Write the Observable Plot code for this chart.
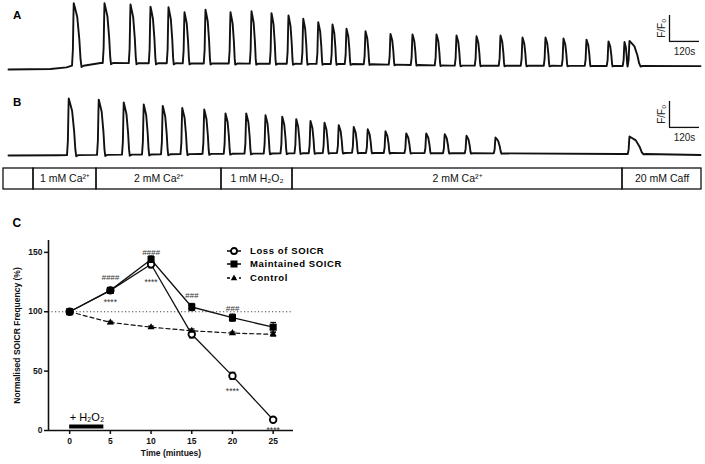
<!DOCTYPE html>
<html><head><meta charset="utf-8">
<script src="https://cdn.jsdelivr.net/npm/d3@7"></script>
<script src="https://cdn.jsdelivr.net/npm/@observablehq/plot@0.6"></script>
<style>
body{margin:0;background:#fff;}
#fig{position:relative;width:705px;height:464px;overflow:hidden;font-family:"Liberation Sans",Arial,sans-serif;}
.panel{position:absolute;left:0;}
.lab{position:absolute;font-weight:bold;line-height:1;color:#000;}
.leg{position:absolute;left:226px;height:10px;font-size:9.5px;font-weight:bold;letter-spacing:0.6px;line-height:10px;white-space:nowrap;}
.leg svg{position:absolute;left:0;top:0;}
.leg span{position:absolute;left:24px;top:0;}
</style></head><body><div id="fig"></div>
<script>
// ---------- Panel A: Ca2+ trace (time in s, F/F0) ----------
const peakTimesA = [261,384,488,568,640,704,788,888,972,1052,1120,1179,1239,1296,1352,1428,1528,1616,1712,1792,1872,1968,2056,2148,2220,2312,2400,2464,2484];
const peakValuesA = [3.55,3.55,3.50,3.42,3.40,3.20,3.30,3.20,3.24,3.17,3.08,2.95,2.82,2.73,2.57,2.47,2.37,2.35,2.35,2.31,2.28,2.31,2.23,2.23,2.19,2.15,2.08,2.06,2.10];
const spikeDurA = [31,26,24,22,21,20,20,19,19,18,18,17,17,16,16,16,16,16,16,16,16,16,16,16,16,16,16,12,44];
const baseTimesA = [0,168,232,280,368,1368,1768,2768];
const baseValuesA = [1.0,1.02,1.08,1.19,1.25,1.21,1.15,1.13];

// ---------- Panel B ----------
const peakTimesB = [241,361,461,541,617,695,783,868,951,1028,1095,1151,1208,1264,1321,1381,1437,1508,1591,1671,1745,1832,1948,2484];
const peakValuesB = [3.19,3.15,3.04,2.96,2.91,2.83,2.77,2.62,2.62,2.55,2.49,2.40,2.33,2.26,2.17,2.10,2.01,1.93,1.85,1.85,1.82,1.76,1.69,1.73];
const spikeDurB = [30,26,24,22,22,21,20,19,19,18,18,17,17,17,17,17,17,17,18,18,18,18,24,56];
const baseTimesB = [0,200,768,1368,1968,2448,2768];
const baseValuesB = [1.0,1.01,1.06,1.10,1.08,1.06,1.02];

// scale bar: 120 s by 1 F/F0
const scaleBarSeconds = 120;
const scaleBarFF0 = 1;

// ---------- Condition bar ----------
const condStart = [-20,100,352,852,1136,2456];
const condEnd = [100,352,852,1136,2456,2772];
const condLabel = ["","1 mM Ca²⁺","2 mM Ca²⁺","1 mM H₂O₂","2 mM Ca²⁺","20 mM Caff"];

// ---------- Panel C ----------
const timeMin = [0,5,10,15,20,25];
const lossSOICR = [100,118,140,81,46,9];
const lossSEM = [0,2,3,3,3,1.5];
const maintainedSOICR = [100,118,144,104,95,87];
const maintainedSEM = [0,2,3,3,3,4];
const controlSOICR = [100,91,87,84,82,81];
const controlSEM = [0,1,1,1.5,1,1.5];
const seriesNames = ["Loss of SOICR","Maintained SOICR","Control"];
const statTime = [5,5,10,10,15,20,20,25];
const statValue = [129,110,150,127,114,103,35,2.5];
const statLabel = ["####","****","####","****","###","###","****","****"];
const h2o2Period = {start:0, end:4.2, label:"+ H₂O₂"};
const yTicksC = [0,50,100,150];
const xTicksC = [0,5,10,15,20,25];

// ---------- helpers ----------
const FONT = '"Liberation Sans", Arial, sans-serif';
const fig = document.getElementById("fig");
function place(el, top, left=0){ const d=document.createElement("div"); d.className="panel"; d.style.top=top+"px"; d.style.left=left+"px"; d.appendChild(el); fig.appendChild(d); }

function buildTrace(times, peaks, durs, kT, kV){
  const base = d3.scaleLinear().domain(kT).range(kV).clamp(true);
  const pts = [];
  const inSpike = t => times.some((tp,i)=> t > tp-8 && t < tp+durs[i]+9);
  kT.forEach((t,k)=>{ if(!inSpike(t)) pts.push({t, v:kV[k]}); });
  times.forEach((tp,i)=>{
    const w = durs[i], b = base(tp), a = peaks[i]-b;
    const next = times[i+1];
    const prof = [[-7,0],[-3.5,0.25],[-1.2,0.8],[0,1],[0.15*w,0.93],[0.45*w,0.78],[0.72*w,0.42],[0.88*w,0.1],[w,-0.02]];
    if (next === undefined || next - 7 > tp + w + 8) prof.push([w+8,0]);
    prof.forEach(([dt,f])=>pts.push({t:tp+dt, v:b+f*a}));
  });
  pts.sort((p,q)=>p.t-q.t);
  return pts;
}

const xTrace = {domain:[0,2780], axis:null};
function tracePlot(pts){
  const sb = [{t0:2644, f0:2.08}];
  return Plot.plot({
    width:705, height:80, marginLeft:8, marginRight:2, marginTop:0, marginBottom:11,
    x:xTrace, y:{domain:[1,1+69/26], axis:null},
    style:{background:"transparent", overflow:"visible", fontFamily:FONT},
    marks:[
      Plot.line(pts,{x:"t", y:"v", stroke:"#111", strokeWidth:1.9, strokeLinejoin:"round"}),
      Plot.ruleX(sb,{x:"t0", y1:"f0", y2:d=>d.f0+scaleBarFF0, stroke:"#111", strokeWidth:1.3}),
      Plot.ruleY(sb,{y:"f0", x1:"t0", x2:d=>d.t0+scaleBarSeconds, stroke:"#111", strokeWidth:1.3}),
      Plot.text(sb,{x:d=>d.t0+scaleBarSeconds/2, y:"f0", dy:10, text:()=>scaleBarSeconds+"s", fontSize:10, fill:"#222"}),
      Plot.text(sb,{x:"t0", y:d=>d.f0+scaleBarFF0/2, dx:-8, rotate:-90, text:()=>"F/Fₒ", fontSize:10, fill:"#222"})
    ]
  });
}

place(tracePlot(buildTrace(peakTimesA, peakValuesA, spikeDurA, baseTimesA, baseValuesA)), 0);
place(tracePlot(buildTrace(peakTimesB, peakValuesB, spikeDurB, baseTimesB, baseValuesB)), 86);

// condition bar
const cells = condStart.map((s,i)=>({s, e:condEnd[i], label:condLabel[i]}));
place(Plot.plot({
  width:705, height:26, marginLeft:8, marginRight:2, marginTop:2, marginBottom:3,
  x:xTrace, y:{domain:[0,1], axis:null},
  style:{background:"transparent", overflow:"visible", fontFamily:FONT},
  marks:[
    Plot.rect(cells,{x1:"s", x2:"e", y1:()=>0, y2:()=>1, fill:"none", stroke:"#111", strokeWidth:1.3}),
    Plot.text(cells,{x:d=>(d.s+d.e)/2, y:()=>0.5, text:"label", fontSize:10.5, fill:"#111"})
  ]
}), 166);

// panel C
const rows = (vals, sem, name) => timeMin.map((t,i)=>({t, v:vals[i], e:sem[i], name}));
const loss = rows(lossSOICR, lossSEM, seriesNames[0]);
const maint = rows(maintainedSOICR, maintainedSEM, seriesNames[1]);
const ctrl = rows(controlSOICR, controlSEM, seriesNames[2]);
const allPts = [...loss, ...maint, ...ctrl];
const stats = statTime.map((t,i)=>({t, v:statValue[i], label:statLabel[i]}));
const xDomC = [-2.6, 27.5];
const capHalf = 0.35;

place(Plot.plot({
  width:300, height:240, marginLeft:48, marginRight:7, marginTop:16, marginBottom:34,
  x:{domain:xDomC, label:null},
  y:{domain:[0,160], label:null},
  style:{background:"transparent", overflow:"visible", fontFamily:FONT, color:"#111"},
  marks:[
    Plot.ruleY([100],{stroke:"#444", strokeWidth:1, strokeDasharray:"1.2,2.3"}),
    Plot.axisY({ticks:yTicksC, tickSize:4, tickPadding:2, fontSize:8.5, fontWeight:"bold", strokeWidth:1.5, label:null}),
    Plot.axisX({ticks:xTicksC, tickSize:4, tickPadding:3, fontSize:8.5, fontWeight:"bold", strokeWidth:1.5, label:null}),
    Plot.ruleX([xDomC[0]],{strokeWidth:1.6}),
    Plot.ruleY([0],{strokeWidth:1.6}),
    Plot.text(["Time (mintues)"],{frameAnchor:"bottom", dy:25, text:d=>d, fontSize:8.5, fontWeight:"bold", letterSpacing:0.5}),
    Plot.text(["Normalised SOICR Frequency (%)"],{frameAnchor:"left", textAnchor:"middle", dx:-31, rotate:-90, text:d=>d, fontSize:8.5, fontWeight:"bold"}),
    Plot.ruleY([h2o2Period],{x1:"start", x2:"end", y:()=>0, dy:-4, strokeWidth:4, stroke:"#000"}),
    Plot.text([h2o2Period],{x:"start", y:()=>0, dy:-13, text:"label", textAnchor:"start", fontSize:11, fill:"#000"}),
    Plot.lineY(ctrl,{x:"t", y:"v", strokeWidth:1.2, strokeDasharray:"4,3"}),
    Plot.lineY(loss,{x:"t", y:"v", strokeWidth:1.3}),
    Plot.lineY(maint,{x:"t", y:"v", strokeWidth:1.3}),
    Plot.ruleX(allPts.filter(d=>d.e>0),{x:"t", y1:d=>d.v-d.e, y2:d=>d.v+d.e, strokeWidth:1.2}),
    Plot.link(allPts.filter(d=>d.e>0),{x1:d=>d.t-capHalf, x2:d=>d.t+capHalf, y1:d=>d.v+d.e, y2:d=>d.v+d.e, strokeWidth:1.2}),
    Plot.link(allPts.filter(d=>d.e>0),{x1:d=>d.t-capHalf, x2:d=>d.t+capHalf, y1:d=>d.v-d.e, y2:d=>d.v-d.e, strokeWidth:1.2}),
    Plot.dot(loss,{x:"t", y:"v", r:3.3, symbol:"circle", fill:"white", stroke:"#000", strokeWidth:1.8}),
    Plot.dot(maint,{x:"t", y:"v", r:4, symbol:"square", fill:"#000"}),
    Plot.dot(ctrl,{x:"t", y:"v", r:2.6, symbol:"triangle", fill:"#000"}),
    Plot.text(stats.filter(d=>d.label[0]==="#"),{x:"t", y:"v", text:"label", fontSize:8, fontStyle:"italic", fill:"#333"}),
    Plot.text(stats.filter(d=>d.label[0]==="*"),{x:"t", y:"v", dy:2.5, text:"label", fontSize:8.5, fill:"#333"})
  ]
}), 224);

// panel letters
[["A",11.5,10.2,13],["B",11.5,96.5,13],["C",12,217.4,12.5]].forEach(([t,fs,top,left])=>{
  const d=document.createElement("div"); d.className="lab"; d.textContent=t;
  d.style.fontSize=fs+"px"; d.style.top=top+"px"; d.style.left=left+"px"; fig.appendChild(d);
});

// legend for panel C
const legSym = [
  '<line x1="1" x2="15" y1="5" y2="5" stroke="#000" stroke-width="1.5"/><circle cx="8" cy="5" r="3" fill="#fff" stroke="#000" stroke-width="1.8"/>',
  '<line x1="1" x2="15" y1="5" y2="5" stroke="#000" stroke-width="1.5"/><rect x="4.5" y="1.5" width="7" height="7" fill="#000"/>',
  '<line x1="1" x2="15" y1="5" y2="5" stroke="#000" stroke-width="1.3" stroke-dasharray="3,3"/><path d="M8,1.5 L11.2,7.3 L4.8,7.3Z" fill="#000"/>'
];
[246,259,273].forEach((top,i)=>{
  const d=document.createElement("div"); d.className="leg"; d.style.top=top+"px";
  d.innerHTML='<svg width="16" height="10">'+legSym[i]+'</svg><span>'+seriesNames[i]+'</span>';
  fig.appendChild(d);
});
</script></body></html>
